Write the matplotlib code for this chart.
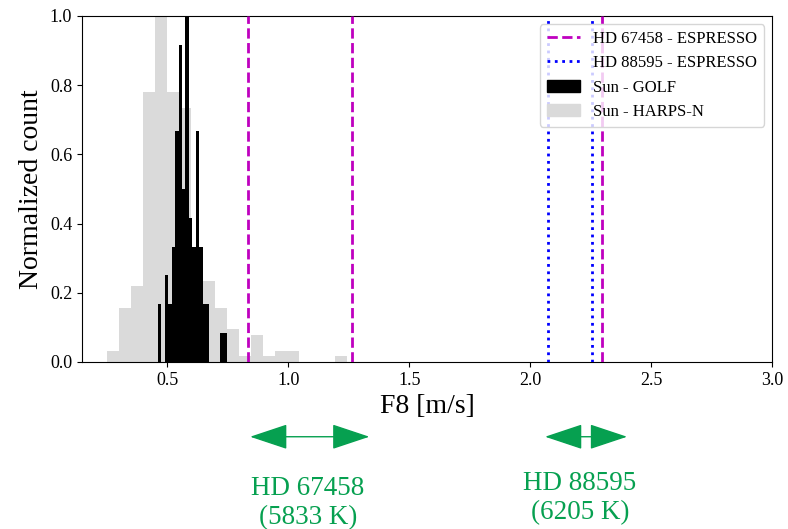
"""
F8 distribution: Sun (GOLF, HARPS-N) vs ESPRESSO targets.
"""

import matplotlib
matplotlib.use("Agg")
import matplotlib.pyplot as plt
from matplotlib.lines import Line2D
from matplotlib.patches import Patch

plt.rcParams["font.family"] = ["Liberation Serif", "DejaVu Serif"]

# ----------------------------------------------------
# Data
# ----------------------------------------------------
# Sun - HARPS-N histogram (normalized counts), equal-width bins
harps_start = 0.249
harps_width = 0.0496
harps_counts = [0.031, 0.156, 0.219, 0.781, 1.0, 0.781, 0.734, 0.31,
                0.234, 0.156, 0.094, 0.016, 0.078, 0.016, 0.031, 0.031,
                0.0, 0.0, 0.0, 0.016]

# Sun - GOLF histogram (normalized counts), equal-width bins
golf_start = 0.461
golf_width = 0.0142
golf_counts = [0.167, 0.0, 0.25, 0.167, 0.333, 0.667, 0.917, 0.5, 1.0,
               0.417, 0.333, 0.667, 0.333, 0.167, 0.167, 0.0, 0.0, 0.0,
               0.083, 0.083]

# ESPRESSO F8 values
hd67458_f8 = [0.835, 1.262, 2.296]
hd88595_f8 = [2.075, 2.255]

# Range arrows under the plot (F8 units) and their labels
hd67458_range = (0.842, 1.335)
hd88595_range = (2.061, 2.400)
hd67458_label = "HD 67458\n(5833 K)"
hd88595_label = "HD 88595\n(6205 K)"

GREEN = "#06a050"
GREY = "#dadada"

# ----------------------------------------------------
# Plot
# ----------------------------------------------------
fig = plt.figure(figsize=(7.88, 5.29), dpi=100)
ax = fig.add_axes([0.104, 0.3157, 0.876, 0.6541])

harps_edges = [harps_start + i * harps_width for i in range(len(harps_counts))]
golf_edges = [golf_start + i * golf_width for i in range(len(golf_counts))]

ax.bar(harps_edges, harps_counts, width=harps_width, align="edge",
       color=GREY, linewidth=0, zorder=1)
ax.bar(golf_edges, golf_counts, width=golf_width, align="edge",
       color="black", linewidth=0, zorder=2)

for x in hd67458_f8:
    ax.axvline(x, color="m", ls="--", lw=2, zorder=3)
for x in hd88595_f8:
    ax.axvline(x, color="b", ls=":", lw=2, zorder=3)

ax.set_xlim(0.147, 3.0)
ax.set_ylim(0, 1.0)
ax.set_xticks([0.5, 1.0, 1.5, 2.0, 2.5, 3.0])
ax.set_yticks([0.0, 0.2, 0.4, 0.6, 0.8, 1.0])
ax.tick_params(labelsize=13)
ax.set_xlabel("F8 [m/s]", fontsize=20)
ax.set_ylabel("Normalized count", fontsize=20)

handles = [
    Line2D([], [], color="m", ls="--", lw=2),
    Line2D([], [], color="b", ls=":", lw=2),
    Patch(color="black"),
    Patch(color=GREY),
]
labels = ["HD 67458 - ESPRESSO", "HD 88595 - ESPRESSO",
          "Sun - GOLF", "Sun - HARPS-N"]
ax.legend(handles, labels, loc="upper right", fontsize=12,
          borderaxespad=0.5)

# Range arrows + star labels below the x axis
arrow_y = -0.216  # axes fraction
for (x0, x1) in (hd67458_range, hd88595_range):
    ax.annotate("", xy=(x1, arrow_y), xytext=(x0, arrow_y),
                xycoords=("data", "axes fraction"),
                textcoords=("data", "axes fraction"),
                annotation_clip=False,
                arrowprops=dict(arrowstyle="<|-|>,head_length=1.2,head_width=0.4",
                                mutation_scale=20, color=GREEN, lw=1,
                                shrinkA=0, shrinkB=0))

fig.text(308 / 788, 1 - 503 / 529, hd67458_label, color=GREEN, fontsize=19.5,
         ha="center", va="center", linespacing=1.22)
fig.text(580 / 788, 1 - 498 / 529, hd88595_label, color=GREEN, fontsize=19.5,
         ha="center", va="center", linespacing=1.22)

fig.savefig("out.png", dpi=100)
